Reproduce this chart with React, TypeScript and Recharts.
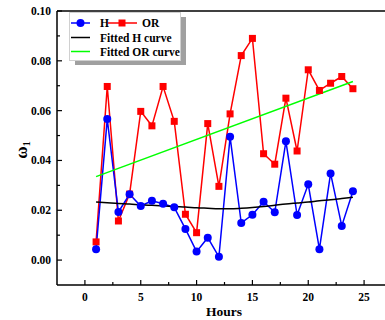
import { LineChart, Line, XAxis, YAxis, Legend, ReferenceLine } from 'recharts'

const hours = [1, 2, 3, 4, 5, 6, 7, 8, 9, 10, 11, 12, 13, 14, 15, 16, 17, 18, 19, 20, 21, 22, 23, 24]

const hValues = [
  0.0044, 0.0566, 0.0193, 0.0264, 0.0217, 0.0238, 0.0226, 0.0212, 0.0125, 0.0034, 0.009, 0.0013,
  0.0495, 0.0149, 0.0182, 0.0234, 0.0192, 0.0477, 0.0181, 0.0304, 0.0044, 0.0348, 0.0137, 0.0276,
]

const orValues = [
  0.0073, 0.0697, 0.0157, 0.0265, 0.0597, 0.0539, 0.0697, 0.0557, 0.0184, 0.011, 0.0548, 0.0296,
  0.0587, 0.0821, 0.089, 0.0427, 0.0385, 0.065, 0.0438, 0.0764, 0.0681, 0.071, 0.0737, 0.0688,
]

// fitted quadratic for H at each hour
const fitHValues = [
  0.0233, 0.023, 0.0227, 0.0225, 0.0222, 0.022, 0.0218, 0.0215, 0.0213, 0.021, 0.0208, 0.0206,
  0.0206, 0.0208, 0.0211, 0.0215, 0.022, 0.0225, 0.0229, 0.0233, 0.0238, 0.0242, 0.0247, 0.0252,
]

// fitted straight line for OR: only its two ends
const fitORValues: Record<number, number> = { 1: 0.0335, 24: 0.0717 }

const xTicks = [0, 2.5, 5, 7.5, 10, 12.5, 15, 17.5, 20, 22.5, 25, 27.5]
const yTicks = [0, 0.01, 0.02, 0.03, 0.04, 0.05, 0.06, 0.07, 0.08, 0.09, 0.1]

const data = hours.map((h, i) => ({
  hour: h,
  H: hValues[i],
  OR: orValues[i],
  fitH: fitHValues[i],
  fitOR: fitORValues[h] ?? null,
}))

const FONT = "'Liberation Serif', 'DejaVu Serif', 'Times New Roman', serif"
const txt = { fontFamily: FONT, fontWeight: 700 }

const XTick = (props: any) => {
  const { x, y, payload } = props
  const major = payload.value % 5 === 0
  return (
    <g>
      <line x1={x} x2={x} y1={y} y2={y - (major ? 5 : 3)} stroke="#000" strokeWidth={1.2} />
      {major && (
        <text x={x} y={y + 16} textAnchor="middle" style={txt} fontSize={11.5} fill="#000">
          {payload.value}
        </text>
      )}
    </g>
  )
}

const YTick = (props: any) => {
  const { x, y, payload } = props
  const major = Math.round(payload.value * 100) % 2 === 0
  return (
    <g>
      <line x1={x} x2={x + (major ? 5 : 3)} y1={y} y2={y} stroke="#000" strokeWidth={1.2} />
      {major && (
        <text x={x - 6} y={y} dy="0.35em" textAnchor="end" style={txt} fontSize={11.5} fill="#000">
          {payload.value.toFixed(2)}
        </text>
      )}
    </g>
  )
}

const SquareDot = (props: any) => {
  const { cx, cy } = props
  if (cx == null || cy == null) return null
  return <rect x={cx - 3.5} y={cy - 3.5} width={7} height={7} fill="#ff0000" />
}

const LegendBox = () => (
  <svg width={200} height={70} style={{ display: 'block' }}>
    <rect x={75} y={17} width={111} height={48} fill="#a0a0a0" />
    <rect x={69.5} y={12.5} width={111} height={48} fill="#fff" stroke="#d0d0d0" />
    <g style={txt} fontSize={11.5} fill="#000">
      <line x1={71} x2={90} y1={23} y2={23} stroke="#0000ff" strokeWidth={1.5} />
      <circle cx={80.5} cy={23} r={4} fill="#0000ff" />
      <text x={100} y={27}>H</text>
      <line x1={108} x2={137} y1={23} y2={23} stroke="#ff0000" strokeWidth={1.5} />
      <rect x={118.5} y={19.5} width={7} height={7} fill="#ff0000" />
      <text x={142} y={27}>OR</text>
      <line x1={71} x2={90} y1={37.5} y2={37.5} stroke="#000" strokeWidth={1.5} />
      <text x={100} y={41.5}>Fitted H curve</text>
      <line x1={71} x2={90} y1={51.5} y2={51.5} stroke="#00ff00" strokeWidth={1.5} />
      <text x={100} y={55.5}>Fitted OR curve</text>
    </g>
  </svg>
)

export default function App() {
  return (
    <div style={{ position: 'absolute', left: 0, top: 0, width: 385, height: 320, overflow: 'hidden', background: '#fff', fontFamily: FONT }}>
      <LineChart width={392} height={320} data={data} margin={{ top: 11, right: 0, bottom: 0, left: 0 }}>
        <XAxis
          dataKey="hour"
          type="number"
          domain={[-2.5, 27.5]}
          ticks={xTicks}
          interval={0}
          height={35}
          tickSize={0}
          tickMargin={0}
          tickLine={false}
          tick={<XTick />}
          axisLine={{ stroke: '#000', strokeWidth: 1.5 }}
        />
        <YAxis
          type="number"
          domain={[-0.01, 0.1]}
          ticks={yTicks}
          interval={0}
          width={57}
          tickSize={0}
          tickMargin={0}
          tickLine={false}
          tick={<YTick />}
          axisLine={{ stroke: '#000', strokeWidth: 1.5 }}
        />
        <ReferenceLine y={0.1} stroke="#000" strokeWidth={1.5} />
        <Legend
          layout="horizontal"
          verticalAlign="middle"
          align="center"
          content={<LegendBox />}
          wrapperStyle={{ position: 'absolute', left: 0, top: 0, width: 200, height: 70 }}
        />
        <Line
          dataKey="OR"
          stroke="#ff0000"
          strokeWidth={1.5}
          dot={<SquareDot />}
          isAnimationActive={false}
        />
        <Line
          dataKey="H"
          stroke="#0000ff"
          strokeWidth={1.5}
          dot={{ r: 4, fill: '#0000ff', stroke: '#0000ff', strokeWidth: 0 }}
          isAnimationActive={false}
        />
        <Line
          dataKey="fitH"
          type="monotone"
          stroke="#000"
          strokeWidth={1.5}
          dot={false}
          isAnimationActive={false}
        />
        <Line
          dataKey="fitOR"
          stroke="#00ff00"
          strokeWidth={1.5}
          dot={false}
          connectNulls
          isAnimationActive={false}
        />
      </LineChart>
      <svg width={385} height={320} style={{ position: 'absolute', left: 0, top: 0, pointerEvents: 'none' }}>
        <text transform="translate(27,150) rotate(-90)" textAnchor="middle" style={txt} fontSize={17} fill="#000">
          ω<tspan fontSize={10} dy={3}>1</tspan>
        </text>
        <text x={224} y={316} textAnchor="middle" style={txt} fontSize={13.5} fill="#000">
          Hours
        </text>
      </svg>
    </div>
  )
}
